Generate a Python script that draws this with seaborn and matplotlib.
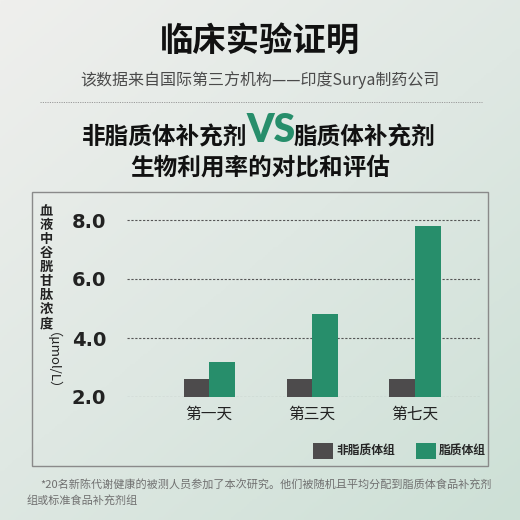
import numpy as np
import pandas as pd
import matplotlib
matplotlib.use("Agg")
import matplotlib.pyplot as plt
import seaborn as sns
from matplotlib.colors import LinearSegmentedColormap
from matplotlib.patches import Rectangle
from matplotlib.lines import Line2D

# 数据
days = ["第一天", "第三天", "第七天"]
groups = ["非脂质体组", "脂质体组"]
non_lipo = [2.6, 2.6, 2.6]
lipo = [3.2, 4.8, 7.8]
yticks = [2.0, 4.0, 6.0, 8.0]

df = pd.DataFrame({
    "day": days * 2,
    "group": [groups[0]] * 3 + [groups[1]] * 3,
    "value": non_lipo + lipo,
})

sns.set_theme(style="white")
plt.rcParams['font.family'] = ['Noto Sans CJK SC', 'DejaVu Sans']

W = H = 520
fig = plt.figure(figsize=(5.2, 5.2), dpi=100)

def fx(px):
    return px / W

def fy(py):
    return 1 - py / H

# 背景渐变
bg = fig.add_axes([0, 0, 1, 1], zorder=-10)
gx, gy = np.meshgrid(np.linspace(0, 1, 200), np.linspace(0, 1, 200))
grad = (gx * 0.45 + gy * 0.55)
cmap = LinearSegmentedColormap.from_list("bg", ["#efefed", "#dfe8e3", "#cde0d6"])
bg.imshow(grad, cmap=cmap, aspect="auto", extent=[0, 1, 0, 1], origin="upper")
bg.set_xlim(0, 1)
bg.set_ylim(0, 1)
bg.axis("off")

# 标题
fig.text(0.5, fy(42), "临床实验证明", ha="center", va="center",
         fontsize=24, fontweight="heavy", color="#111111")
fig.text(0.5, fy(80), "该数据来自国际第三方机构——印度Surya制药公司", ha="center", va="center",
         fontsize=11.5, color="#4a4a4a", fontweight="light")
fig.add_artist(Line2D([fx(40), fx(482)], [fy(102), fy(102)], transform=fig.transFigure,
                      color="#9a9a9a", lw=0.7, ls=(0, (1.2, 1.2))))

fig.text(fx(247), fy(137), "非脂质体补充剂", ha="right", va="center",
         fontsize=17, fontweight="bold", color="#111111")
fig.text(fx(271), fy(130), "VS", ha="center", va="center", fontsize=28,
         fontweight="heavy", color="#278e6b", family=["Lato", "DejaVu Sans"])
fig.text(fx(294), fy(137), "脂质体补充剂", ha="left", va="center",
         fontsize=17, fontweight="bold", color="#111111")
fig.text(0.5, fy(168), "生物利用率的对比和评估", ha="center", va="center",
         fontsize=17, fontweight="bold", color="#111111")

# 外框
fig.add_artist(Rectangle((fx(32), fy(466)), fx(488) - fx(32), fy(192) - fy(466),
                         transform=fig.transFigure, fill=False, edgecolor="#8a8a8a", lw=1))

# 图表
top_val = 8.2
px_per_unit = 29.5
ax_top = 397 - (top_val - 2.0) * px_per_unit
ax = fig.add_axes([fx(127), fy(397), fx(480) - fx(127), (397 - ax_top) / H])
ax.patch.set_alpha(0)

sns.barplot(data=df, x="day", y="value", hue="group", order=days, hue_order=groups,
            palette={groups[0]: "#4d4b4c", groups[1]: "#278e6b"},
            width=0.5, gap=0, linewidth=0, saturation=1, ax=ax, zorder=3)

ax.set_ylim(2.0, top_val)
ax.set_xlim(-0.8, 2.63)
ax.set_yticks(yticks)
ax.set_yticklabels([f"{v:.1f}" for v in yticks], fontsize=14, fontweight="bold",
                   color="#222222", family="DejaVu Sans")
ax.yaxis.grid(True, color="#555555", lw=0.8, ls=(0, (2, 1.5)), zorder=1)
ax.set_axisbelow(True)
for s in ax.spines.values():
    s.set_visible(False)
ax.tick_params(axis="y", length=0, pad=15)
ax.tick_params(axis="x", length=0, pad=6, labelsize=11.3, labelcolor="#222222")
ax.set_xlabel("")
ax.set_ylabel("")

# Y轴标题
fig.text(fx(46), fy(204), "\n".join("血液中谷胱甘肽浓度"), ha="center", va="top",
         fontsize=9.5, fontweight="bold", color="#222222", linespacing=1.0)
fig.text(fx(46), fy(332), "（μmol/L）", ha="center", va="top", rotation=-90,
         fontsize=9.5, fontweight="medium", color="#222222")

# 图例
sns.move_legend(ax, "center left", bbox_to_anchor=(fx(313), fy(451)),
                bbox_transform=fig.transFigure, ncol=2, frameon=False, title=None,
                prop={"size": 8.5, "weight": "bold"},
                handlelength=1.7, handleheight=1.7, handletextpad=0.25,
                columnspacing=1.8, borderpad=0, borderaxespad=0)

# 注释
fig.text(fx(40), fy(485), "*20名新陈代谢健康的被测人员参加了本次研究。他们被随机且平均分配到脂质体食品补充剂",
         ha="left", va="center", fontsize=8, color="#707070")
fig.text(fx(27), fy(500), "组或标准食品补充剂组", ha="left", va="center", fontsize=8, color="#707070")

fig.savefig("out.png", dpi=100)
